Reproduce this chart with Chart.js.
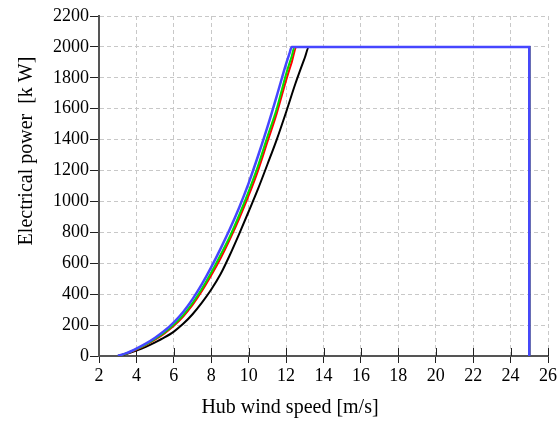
<!DOCTYPE html>
<html><head><meta charset="utf-8">
<script src="https://cdn.jsdelivr.net/npm/chart.js@4.4.1/dist/chart.umd.min.js"></script>
<style>html,body{margin:0;padding:0;background:#fff;overflow:hidden}canvas{display:block}</style>
</head><body>
<canvas id="c" width="559" height="422" style="width:559px;height:422px"></canvas>
<script>
// Wind speed [m/s] and electrical power [kW] for each curve
const windBlack = [3, 3.5, 4, 4.5, 5, 5.5, 6, 6.5, 7, 7.5, 8, 8.5, 9, 9.5, 10, 10.5, 11, 11.5, 12, 12.5, 13, 13.22, 25, 25];
const powerBlack = [0, 14, 35, 59, 88, 120, 158, 208, 270, 345, 430, 530, 655, 792, 935, 1081, 1239, 1400, 1577, 1763, 1930, 2000, 2000, 0];

const windRed = [3, 3.5, 4, 4.5, 5, 5.5, 6, 6.5, 7, 7.5, 8, 8.5, 9, 9.5, 10, 10.5, 11, 11.5, 12, 12.3, 12.56, 25, 25];
const powerRed = [0, 17, 42, 71, 105, 146, 195, 255, 330, 420, 522, 632, 756, 891, 1039, 1200, 1385, 1570, 1783, 1900, 2000, 2000, 0];

const windGreen = [3, 3.5, 4, 4.5, 5, 5.5, 6, 6.5, 7, 7.5, 8, 8.5, 9, 9.5, 10, 10.5, 11, 11.5, 12, 12.3, 12.45, 25, 25];
const powerGreen = [0, 18, 44, 74, 110, 152, 203, 265, 343, 435, 540, 655, 775, 914, 1065, 1230, 1418, 1600, 1824, 1940, 2000, 2000, 0];

const windBlue = [3, 3.5, 4, 4.5, 5, 5.5, 6, 6.5, 7, 7.5, 8, 8.5, 9, 9.5, 10, 10.5, 11, 11.5, 12, 12.2, 12.3, 25, 25];
const powerBlue = [0, 20, 48, 80, 118, 163, 218, 285, 368, 465, 575, 695, 823, 963, 1119, 1294, 1481, 1682, 1890, 1965, 2000, 2000, 0];

const xTitle = 'Hub wind speed [m/s]';
const yTitle = 'Electrical power  [k W]';

const pts = (xs, ys) => xs.map((x, i) => ({x: x, y: ys[i]}));
const FONT = '"Liberation Serif", "Times New Roman", serif';

const crossTicks = {
  id: 'crossTicks',
  beforeDatasetsDraw(chart) {
    const xs = chart.scales.x, ctx = chart.ctx, a = chart.chartArea;
    ctx.save();
    ctx.strokeStyle = '#222';
    ctx.lineWidth = 1;
    xs.ticks.forEach((t, i) => {
      const px = Math.round(xs.getPixelForTick(i)) + 0.5;
      if (px <= a.left + 2) return;
      ctx.beginPath();
      ctx.moveTo(px, a.bottom);
      ctx.lineTo(px, a.bottom - 8);
      ctx.stroke();
    });
    ctx.restore();
  }
};

const titles = {
  id: 'titles',
  afterDraw(chart) {
    const ctx = chart.ctx;
    ctx.save();
    ctx.fillStyle = '#000';
    ctx.font = '20px ' + FONT;
    ctx.textAlign = 'center';
    ctx.textBaseline = 'middle';
    ctx.fillText(xTitle, 290, 408);
    ctx.translate(27, 151);
    ctx.rotate(-Math.PI / 2);
    ctx.fillText(yTitle, 0, 0);
    ctx.restore();
  }
};

const ds = (label, xs, ys, color, w) => ({
  label: label, data: pts(xs, ys), showLine: true, borderColor: color,
  backgroundColor: color, borderWidth: w, pointRadius: 0,
  cubicInterpolationMode: 'monotone', fill: false
});

new Chart(document.getElementById('c'), {
  type: 'scatter',
  data: {
    // first dataset is drawn on top
    datasets: [
      ds('blue', windBlue, powerBlue, '#4646ff', 2.5),
      ds('green', windGreen, powerGreen, '#00e000', 2),
      ds('red', windRed, powerRed, '#ff0000', 2),
      ds('black', windBlack, powerBlack, '#000000', 2)
    ]
  },
  options: {
    responsive: false,
    animation: false,
    devicePixelRatio: 1,
    layout: {padding: {left: 0, right: 10, top: 16, bottom: 0}},
    plugins: {legend: {display: false}, tooltip: {enabled: false}},
    scales: {
      x: {
        type: 'linear', min: 2, max: 26,
        afterFit: s => { s.height = 66; },
        ticks: {stepSize: 2, color: '#000', padding: 2, maxRotation: 0, autoSkip: false,
                font: {family: FONT, size: 18}, callback: v => String(v)},
        grid: {color: '#c8c8c8', lineWidth: 1, drawTicks: true, tickLength: 7,
               tickColor: '#222', tickWidth: 1},
        border: {display: true, color: '#555', width: 2, dash: [4, 3]}
      },
      y: {
        type: 'linear', min: 0, max: 2200,
        afterFit: s => { s.width = 99; },
        ticks: {stepSize: 200, color: '#000', padding: 1,
                font: {family: FONT, size: 18}, callback: v => String(v)},
        grid: {color: '#c8c8c8', lineWidth: 1, drawTicks: true, tickLength: 9,
               tickColor: '#222', tickWidth: 1},
        border: {display: true, color: '#555', width: 2, dash: [4, 3]}
      }
    }
  },
  plugins: [crossTicks, titles]
});
</script>
</body></html>
